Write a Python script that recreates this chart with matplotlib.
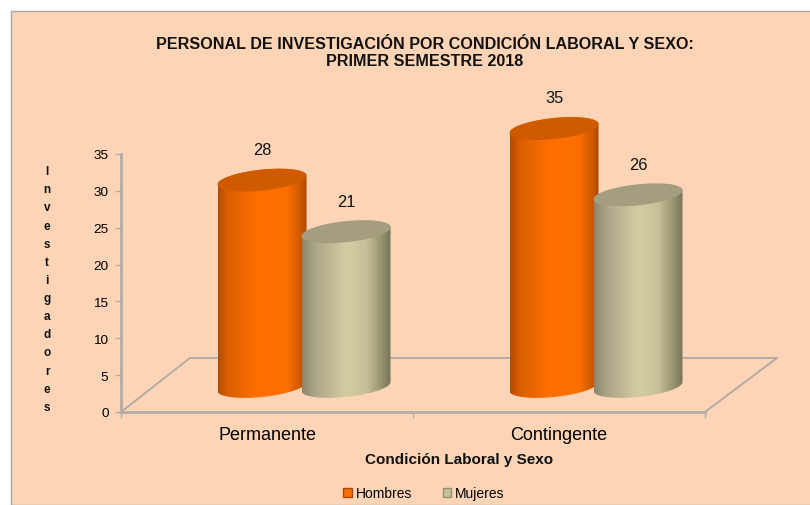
import numpy as np
import matplotlib
matplotlib.use("Agg")
import matplotlib.pyplot as plt
from matplotlib.colors import LinearSegmentedColormap
from matplotlib.patches import Polygon, Rectangle, Patch

plt.rcParams["font.family"] = ["Liberation Sans", "DejaVu Sans"]

categorias = ["Permanente", "Contingente"]
hombres = [28, 35]
mujeres = [21, 26]
y_ticks = [0, 5, 10, 15, 20, 25, 30, 35]

titulo = "PERSONAL DE INVESTIGACIÓN POR CONDICIÓN LABORAL Y SEXO:\nPRIMER SEMESTRE 2018"
eje_y = "Investigadores"
eje_x = "Condición Laboral y Sexo"

FONDO = "#fdd5b6"
GRIS = "#b3aca6"

W, H = 810, 506
fig = plt.figure(figsize=(W / 100, H / 100), dpi=100, facecolor="white")

# panel de fondo
fig.add_artist(Rectangle((10.5 / W, 0), 1, 1 - 11.5 / H, transform=fig.transFigure,
                         facecolor=FONDO, edgecolor="#a6a6a6", linewidth=1, zorder=-1))

# eje en pixeles: x 121-705, y 413-155
ax = fig.add_axes([121 / W, 1 - 413 / H, 584 / W, 258 / H])
ax.patch.set_alpha(0)
ax.set_xlim(-0.5, 1.5)
ax.set_ylim(0, 35)

px_x = 2 / 584
px_y = 35 / 258

# piso
floor_x = [-0.5, -0.5 + 69 * px_x, 1.5 + 72 * px_x, 1.5]
floor_y = [0, 54 * px_y, 54 * px_y, 0]
ax.plot(floor_x, floor_y, color=GRIS, lw=1.4, clip_on=False, zorder=1)

for s in ["top", "right"]:
    ax.spines[s].set_visible(False)
for s in ["left", "bottom"]:
    ax.spines[s].set_color(GRIS)
    ax.spines[s].set_linewidth(2)
ax.set_yticks(y_ticks)
ax.set_xticks([-0.5, 0.5, 1.5], minor=True)
ax.set_xticks([0, 1])
ax.set_xticklabels(categorias, fontsize=13)
ax.tick_params(axis="x", which="major", length=0, pad=10)
ax.tick_params(axis="x", which="minor", length=4, color=GRIS, width=1)
ax.tick_params(axis="y", length=4, color=GRIS, width=1, labelsize=9.7, pad=5)


def cilindro(cx, valor, cmap, color_tapa):
    # base del cilindro elevada sobre el piso
    a = 44.5 * px_x
    b = 10.5 * px_y
    s = 0.1 * px_y / px_x  # inclinacion de la elipse
    base = 25.5 * px_y
    top = base + valor
    t = np.linspace(0, np.pi, 60)
    # mitad inferior de la base y mitad superior de la tapa
    xb = cx - a * np.cos(t)
    yb = base - b * np.sin(t) - s * a * np.cos(t)
    xt = cx + a * np.cos(t)
    yt = top + b * np.sin(t) + s * a * np.cos(t)
    cuerpo = Polygon(np.column_stack([np.r_[xb, xt], np.r_[yb, yt]]), closed=True,
                     transform=ax.transData, facecolor="none", edgecolor="none")
    ax.add_patch(cuerpo)
    grad = np.linspace(0, 1, 256).reshape(1, -1)
    im = ax.imshow(grad, extent=[cx - a, cx + a, base - 2 * b, top + 2 * b], aspect="auto",
                   cmap=cmap, zorder=3)
    im.set_clip_box(fig.bbox)
    im.set_clip_path(cuerpo)
    # tapa
    tt = np.linspace(0, 2 * np.pi, 120)
    tapa = Polygon(np.column_stack([cx + a * np.cos(tt),
                                    top + b * np.sin(tt) + s * a * np.cos(tt)]),
                   closed=True, facecolor=color_tapa, edgecolor="none", zorder=3.1,
                   clip_on=False)
    ax.add_patch(tapa)
    ax.set_xlim(-0.5, 1.5)
    ax.set_ylim(0, 35)


naranja = LinearSegmentedColormap.from_list("naranja", [(0, "#b24c02"), (0.1, "#d85e00"),
                                                        (0.45, "#ff7000"), (0.78, "#fb6e00"),
                                                        (0.92, "#cf5b00"), (1, "#a84800")])
beige = LinearSegmentedColormap.from_list("beige", [(0, "#8b866c"), (0.15, "#aca689"),
                                                    (0.5, "#d4cca1"), (0.72, "#c8c098"),
                                                    (0.9, "#96916f"), (1, "#77745a")])

for i in range(len(categorias)):
    c_h = i - 5 * px_x
    c_m = i + 79 * px_x
    cilindro(c_h, hombres[i], naranja, "#cf5a00")
    cilindro(c_m, mujeres[i], beige, "#a49d7f")
    ax.text(c_h, hombres[i] + 7.6, str(hombres[i]), ha="center", va="center", fontsize=11.8,
            clip_on=False, color="#111111")
    ax.text(c_m, mujeres[i] + 7.6, str(mujeres[i]), ha="center", va="center",
            fontsize=11.8, clip_on=False, color="#111111")

fig.text(425 / W, 1 - 53 / H, titulo, ha="center", va="center", fontsize=11.6,
         fontweight="bold", color="#111111", linespacing=1.2)
fig.text(47 / W, 1 - 290 / H, "\n".join(eje_y), ha="center", va="center", fontsize=8.5,
         fontweight="bold", color="#111111", linespacing=1.68)
fig.text(459 / W, 1 - 460.5 / H, eje_x, ha="center", va="center", fontsize=11,
         fontweight="bold", color="#111111")

leg = fig.legend(handles=[Patch(facecolor="#fb6e00", edgecolor="#a84800", label="Hombres"),
                          Patch(facecolor="#c8c098", edgecolor="#96916f", label="Mujeres")],
                 loc="center", bbox_to_anchor=(424 / W, 1 - 494 / H), ncol=2, frameon=False,
                 fontsize=10, handlelength=0.6, handleheight=0.6, handletextpad=0.3,
                 columnspacing=2.2)

fig.savefig("out.png", dpi=100, facecolor="white")
